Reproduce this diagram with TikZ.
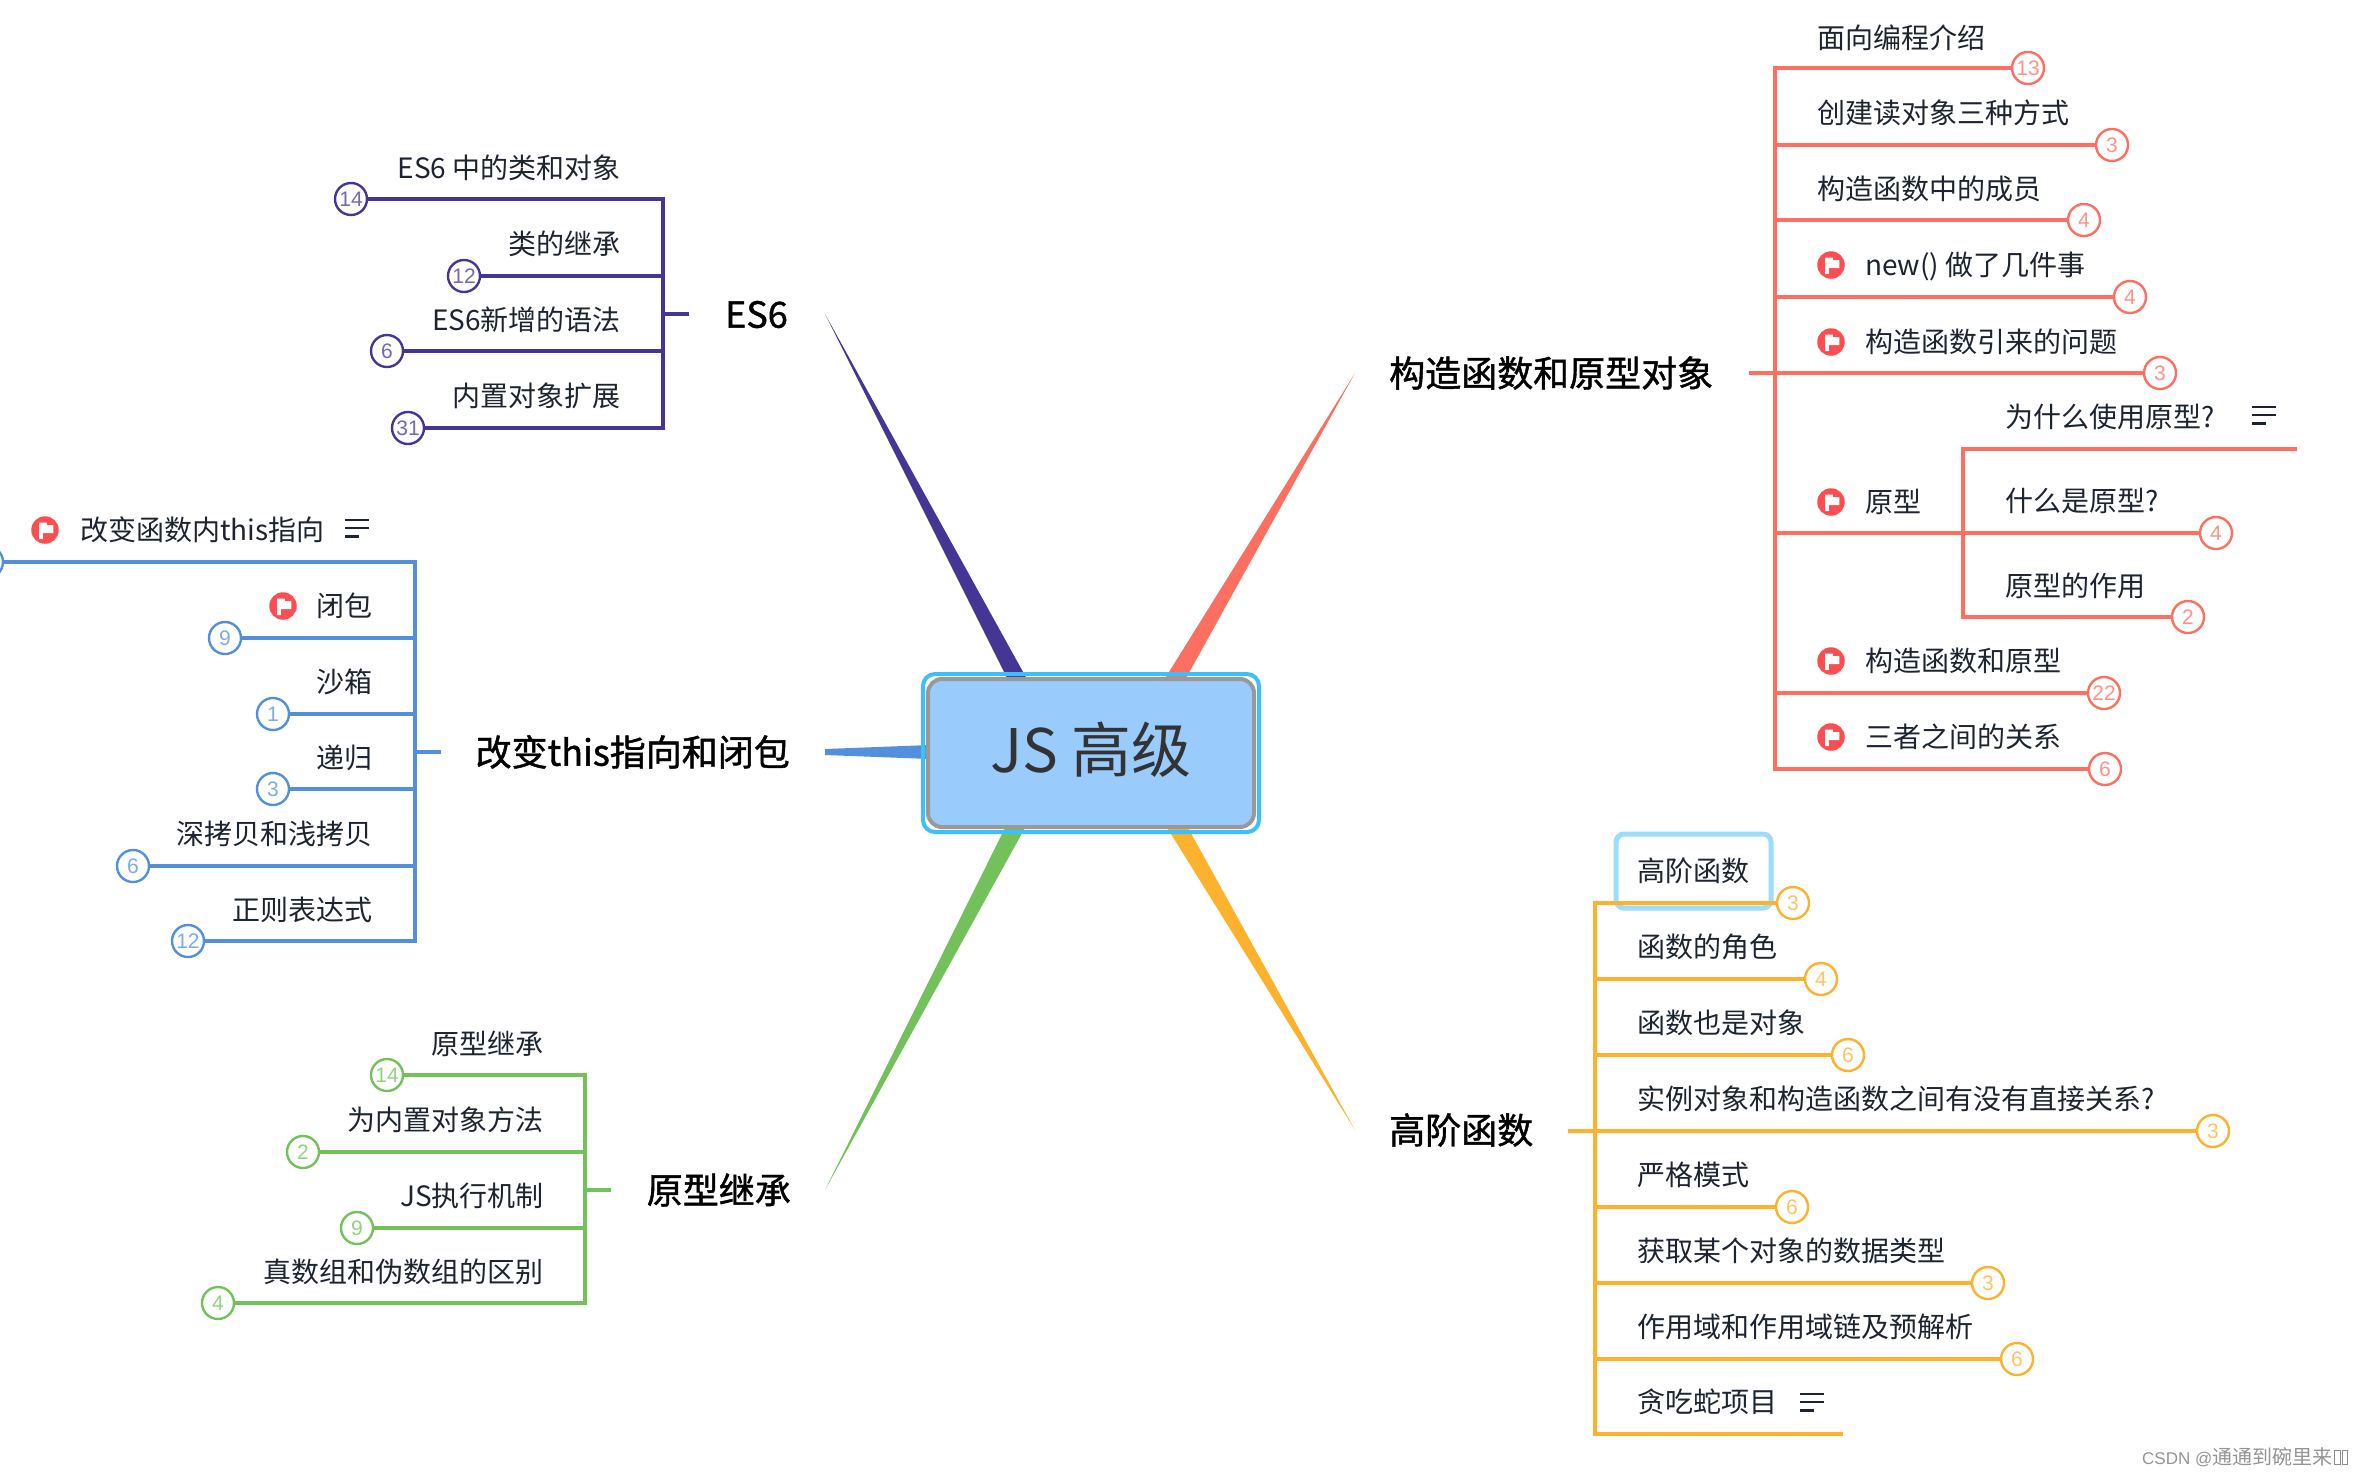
\documentclass[tikz,border=0pt]{standalone}
\usepackage{fontspec}
\setmainfont{Noto Sans CJK SC}
\newfontfamily\digitfont{Liberation Sans}
\newfontfamily\labfont[FakeBold=1.2]{Noto Sans CJK SC}
\definecolor{cpurple}{HTML}{453594}
\definecolor{cred}{HTML}{FD6F60}
\definecolor{cblue}{HTML}{5390DB}
\definecolor{cgreen}{HTML}{72C15A}
\definecolor{corange}{HTML}{FDB22D}
\definecolor{ctext}{HTML}{1C2430}
\definecolor{cflag}{HTML}{FC4D50}
\colorlet{cur}{cpurple}
\tikzset{
  txt/.style={inner sep=0pt,text=ctext,font=\fontsize{28}{32}\selectfont,text height=24.6pt,text depth=3.4pt},
  tw/.style={txt,anchor=west},
  te/.style={txt,anchor=east},
  lab/.style={inner sep=0pt,text=black,font=\labfont\fontsize{36}{42}\selectfont,text height=31.7pt,text depth=4.3pt},
  numc/.style={circle,draw=cur,line width=2.4pt,fill=white,minimum size=32pt,inner sep=0pt,text=cur!75,font=\digitfont\fontsize{21}{24}\selectfont},
  br/.style={draw=cur,line width=3.6pt},
  flagdot/.style={circle,fill=cflag,minimum size=27.5pt,inner sep=0pt},
  focusbox/.style={rectangle,rounded corners=14pt,draw=black!40,line width=4pt,fill=cfill,minimum width=326pt,minimum height=148pt,inner sep=0pt,text=black!80,font=\fontsize{60}{66}\selectfont,text height=52.8pt,text depth=13.2pt},
  outerbox/.style={rectangle,rounded corners=12pt,draw=csel,line width=4pt,minimum width=336pt,minimum height=158pt,inner sep=0pt},
  hilite/.style={rectangle,rounded corners=8pt,draw=chl,line width=5pt,minimum width=155pt,minimum height=74pt,inner sep=0pt},
  noteline/.style={draw=ctext,line width=2.2pt},
}
\definecolor{cfill}{HTML}{99CBFC}
\definecolor{csel}{HTML}{3DBFFB}
\definecolor{chl}{HTML}{9BDDFC}
\newcommand{\flagat}[3]{%
  \node[flagdot] (#1) at (#2,#3) {};
  \fill[white,shift={(#1.center)}] (-6,-7.4) -- (1.8,-7.4) -- (1.8,-5) -- (8.4,-5) -- (8.4,3.2) -- (-2.2,3.2) -- (-2.2,9) -- (-6,9) -- cycle;
}
\newcommand{\noteat}[3]{%
  \coordinate (#1) at (#2,#3);
  \draw[noteline,shift={(#1)}] (-12,-8) -- (12,-8) (-12,0) -- (12,0) (-12,8.5) -- (2,8.5);
}
\begin{document}
\begin{tikzpicture}[x=1pt,y=-1pt]
\useasboundingbox (0,0) rectangle (2362,1476);
\begin{scope}
\clip (0,0) rectangle (2362,1476);

% main tapered branches
\coordinate (tipa) at (825,314);
\coordinate (tipb) at (1355,373);
\coordinate (tipc) at (825,752);
\coordinate (tipd) at (825,1190);
\coordinate (tipe) at (1355,1130);
\fill[cpurple] (tipa) -- (1008,680) -- (1027.5,680) -- cycle;
\fill[cred] (tipb) -- (1164,680) -- (1185,680) -- cycle;
\fill[cblue] ([yshift=3pt]tipc) -- (930,745) -- (930,759) -- ([yshift=-3pt]tipc) -- cycle;
\fill[cgreen] (tipd) -- (1006,826) -- (1026,826) -- cycle;
\fill[corange] (tipe) -- (1166,826) -- (1187,826) -- cycle;
\node[focusbox] (root) at (1091,753) {JS 高级};
\node[outerbox] (rootsel) at (1091,753) {};

% ES6
\colorlet{cur}{cpurple}
\node[lab,anchor=east] (es) at (788,314) {ES6};
\coordinate (esv) at (663,314);
\coordinate (esstub) at (689,314);
\node[te] (e1) at (621,168) {ES6 中的类和对象};
\node[te] (e2) at (621,244) {类的继承};
\node[te] (e3) at (621,320) {ES6新增的语法};
\node[te] (e4) at (621,396) {内置对象扩展};
\node[numc] (ec1) at (351,199) {14};
\node[numc] (ec2) at (464,276) {12};
\node[numc] (ec3) at (387,351) {6};
\node[numc] (ec4) at (408,428) {31};
\draw[br] (ec1) -- (ec1 -| esv) -- (ec4 -| esv) -- (ec4);
\draw[br] (ec2) -- (ec2 -| esv);
\draw[br] (ec3) -- (ec3 -| esv);
\draw[br] (esstub) -- (esv);

% this
\colorlet{cur}{cblue}
\node[lab,anchor=east] (th) at (790,752) {改变this指向和闭包};
\coordinate (thv) at (415,752);
\coordinate (thstub) at (441,752);
\flagat{tf1}{45}{530}
\node[tw] (t1) at (80,530) {改变函数内this指向};
\noteat{tn1}{357}{528}
\flagat{tf2}{283}{606}
\node[te] (t2) at (373,606) {闭包};
\node[te] (t3) at (373,682) {沙箱};
\node[te] (t4) at (373,758) {递归};
\node[te] (t5) at (373,834) {深拷贝和浅拷贝};
\node[te] (t6) at (373,910) {正则表达式};
\node[numc] (tc1) at (-13,562) {};
\node[numc] (tc2) at (225,638) {9};
\node[numc] (tc3) at (273,714) {1};
\node[numc] (tc4) at (273,789) {3};
\node[numc] (tc5) at (133,866) {6};
\node[numc] (tc6) at (188,941) {12};
\draw[br] (tc1) -- (tc1 -| thv) -- (tc6 -| thv) -- (tc6);
\draw[br] (tc2) -- (tc2 -| thv);
\draw[br] (tc3) -- (tc3 -| thv);
\draw[br] (tc4) -- (tc4 -| thv);
\draw[br] (tc5) -- (tc5 -| thv);
\draw[br] (thstub) -- (thv);

% inherit
\colorlet{cur}{cgreen}
\node[lab,anchor=east] (gr) at (791,1190) {原型继承};
\coordinate (grv) at (585,1190);
\coordinate (grstub) at (611,1190);
\node[te] (g1) at (544,1044) {原型继承};
\node[te] (g2) at (544,1120) {为内置对象方法};
\node[te] (g3) at (544,1196) {JS执行机制};
\node[te] (g4) at (544,1272) {真数组和伪数组的区别};
\node[numc] (gc1) at (387,1075) {14};
\node[numc] (gc2) at (303,1152) {2};
\node[numc] (gc3) at (357,1228) {9};
\node[numc] (gc4) at (218,1303) {4};
\draw[br] (gc1) -- (gc1 -| grv) -- (gc4 -| grv) -- (gc4);
\draw[br] (gc2) -- (gc2 -| grv);
\draw[br] (gc3) -- (gc3 -| grv);
\draw[br] (grstub) -- (grv);

% constructor
\colorlet{cur}{cred}
\node[lab,anchor=west] (rl) at (1389,373) {构造函数和原型对象};
\coordinate (rv) at (1775,373);
\coordinate (rstub) at (1749,373);
\coordinate (rsv) at (1963,533);
\node[tw] (r1) at (1817,38) {面向编程介绍};
\node[tw] (r2) at (1817,113) {创建读对象三种方式};
\node[tw] (r3) at (1817,189) {构造函数中的成员};
\flagat{rf4}{1831}{265}
\node[tw] (r4) at (1865,265) {new() 做了几件事};
\flagat{rf5}{1831}{342}
\node[tw] (r5) at (1865,342) {构造函数引来的问题};
\flagat{rf6}{1831}{502}
\node[tw] (r6) at (1865,502) {原型};
\node[tw] (s1) at (2005,417) {为什么使用原型?};
\noteat{sn1}{2264}{415}
\node[tw] (s2) at (2005,501) {什么是原型?};
\node[tw] (s3) at (2005,586) {原型的作用};
\flagat{rf7}{1831}{661}
\node[tw] (r7) at (1865,661) {构造函数和原型};
\flagat{rf8}{1831}{737}
\node[tw] (r8) at (1865,737) {三者之间的关系};
\node[numc] (rc1) at (2028,68) {13};
\node[numc] (rc2) at (2112,145) {3};
\node[numc] (rc3) at (2084,220) {4};
\node[numc] (rc4) at (2130,297) {4};
\node[numc] (rc5) at (2160,373) {3};
\node[numc] (sc2) at (2216,533) {4};
\node[numc] (sc3) at (2188,617) {2};
\node[numc] (rc7) at (2104,693) {22};
\node[numc] (rc8) at (2105,769) {6};
\coordinate (send) at (2297,449);
\draw[br] (rc1) -- (rc1 -| rv) -- (rc8 -| rv) -- (rc8);
\draw[br] (rc2) -- (rc2 -| rv);
\draw[br] (rc3) -- (rc3 -| rv);
\draw[br] (rc4) -- (rc4 -| rv);
\draw[br] (rc5) -- (rstub);
\draw[br] (sc2) -- (sc2 -| rv);
\draw[br] (rc7) -- (rc7 -| rv);
\draw[br] (send) -- (send -| rsv) -- (sc3 -| rsv) -- (sc3);

% higher-order
\colorlet{cur}{corange}
\node[lab,anchor=west] (ol) at (1389,1130) {高阶函数};
\coordinate (ov) at (1595,1131);
\coordinate (ostub) at (1568,1131);
\node[hilite] (ohl) at (1693.5,871) {};
\node[tw] (o1) at (1637,871) {高阶函数};
\node[tw] (o2) at (1637,947) {函数的角色};
\node[tw] (o3) at (1637,1023) {函数也是对象};
\node[tw] (o4) at (1637,1099) {实例对象和构造函数之间有没有直接关系?};
\node[tw] (o5) at (1637,1175) {严格模式};
\node[tw] (o6) at (1637,1251) {获取某个对象的数据类型};
\node[tw] (o7) at (1637,1327) {作用域和作用域链及预解析};
\node[tw] (o8) at (1637,1402) {贪吃蛇项目};
\noteat{on8}{1812}{1402}
\node[numc] (oc1) at (1793,903) {3};
\node[numc] (oc2) at (1821,979) {4};
\node[numc] (oc3) at (1848,1055) {6};
\node[numc] (oc4) at (2213,1131) {3};
\node[numc] (oc5) at (1792,1207) {6};
\node[numc] (oc6) at (1988,1283) {3};
\node[numc] (oc7) at (2017,1359) {6};
\coordinate (oend) at (1843,1434);
\draw[br] (oc1) -- (oc1 -| ov) -- (oend -| ov) -- (oend);
\draw[br] (oc2) -- (oc2 -| ov);
\draw[br] (oc3) -- (oc3 -| ov);
\draw[br] (oc4) -- (ostub);
\draw[br] (oc5) -- (oc5 -| ov);
\draw[br] (oc6) -- (oc6 -| ov);
\draw[br] (oc7) -- (oc7 -| ov);

% watermark
\node[inner sep=0pt,anchor=west,text=black!42,font=\fontsize{20}{24}\selectfont,text height=17.6pt,text depth=2.4pt] (wm) at (2142,1457) {{\digitfont\fontsize{17}{20}\selectfont CSDN @}通通到碗里来};
\draw[black!45,line width=1pt] (2334.5,1450) rectangle (2340,1464) (2342,1450) rectangle (2347.5,1464);
\end{scope}
\end{tikzpicture}
\end{document}
